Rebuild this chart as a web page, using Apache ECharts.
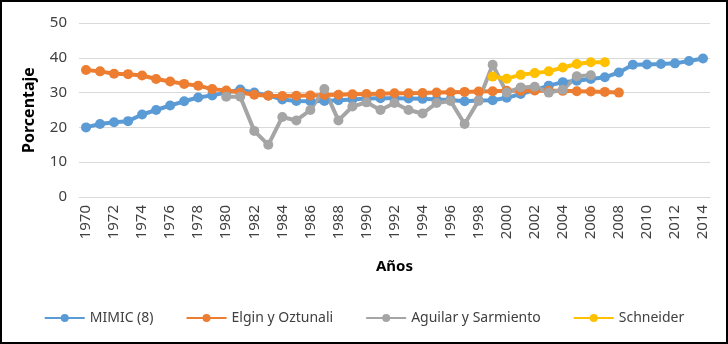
<!DOCTYPE html>
<html>
<head>
<meta charset="utf-8">
<script src="https://cdn.jsdelivr.net/npm/echarts@6/dist/echarts.min.js"></script>
<style>
    html, body { margin: 0; padding: 0; background: #fff; }
    #chart { width: 728px; height: 344px; box-sizing: border-box; border: 2px solid #000; }
</style>
</head>
<body>
<div id="chart"></div>
<script>
// años 1970 - 2014
const years = []
for (let y = 1970; y <= 2014; y++) years.push(String(y))

const mimic = [20, 21, 21.5, 21.8, 23.7, 25, 26.3, 27.5, 28.6, 29.2, 30, 30.9, 30, 29.2, 28, 27.6, 27.5, 27.6, 27.8, 28, 28.3, 28.4, 28.4, 28.3, 28.2, 28, 27.9, 27.5, 27.7, 27.8, 28.5, 29.6, 30.7, 32, 33, 33.4, 33.9, 34.4, 35.8, 38, 38.1, 38.2, 38.4, 39.1, 39.8]
const elgin = [36.5, 36.1, 35.4, 35.3, 34.9, 33.9, 33.2, 32.5, 32, 31, 30.6, 30, 29.4, 29.1, 29, 29.1, 29.2, 29.3, 29.4, 29.5, 29.6, 29.7, 29.8, 29.8, 29.9, 30, 30.1, 30.2, 30.3, 30.4, 30.5, 30.5, 30.6, 30.5, 30.5, 30.4, 30.3, 30.2, 30, null, null, null, null, null, null]
const aguilar = [null, null, null, null, null, null, null, null, null, null, 28.8, 28.8, 19, 15, 23, 22, 25, 31, 22, 26, 27.2, 25, 27, 25, 24, 27, 27.6, 21, 27.7, 38, 30, 31.5, 31.7, 30, 30.8, 34.7, 35, null, null, null, null, null, null, null, null]
const schneider = [null, null, null, null, null, null, null, null, null, null, null, null, null, null, null, null, null, null, null, null, null, null, null, null, null, null, null, null, null, 34.6, 34, 35.1, 35.6, 36.1, 37.2, 38.2, 38.7, 38.7, null, null, null, null, null, null, null]

const seriesNames = ['MIMIC (8)', 'Elgin y Oztunali', 'Aguilar y Sarmiento', 'Schneider']
const colors = ['#5B9BD5', '#ED7D31', '#A5A5A5', '#FFC000']

const font = 'Noto Sans'

function lineSeries(name, data, color) {
    return {
        name: name,
        type: 'line',
        data: data,
        symbol: 'circle',
        symbolSize: 10,
        showAllSymbol: true,
        connectNulls: false,
        lineStyle: { width: 4, color: color },
        itemStyle: { color: color },
        emphasis: { disabled: true }
    }
}

const chart = echarts.init(document.getElementById('chart'))
chart.setOption({
    animation: false,
    textStyle: { fontFamily: font },
    grid: { left: 77, right: 16, top: 21, bottom: 145 },
    legend: {
        bottom: 12,
        left: 'center',
        itemWidth: 40,
        itemHeight: 10,
        itemGap: 32,
        textStyle: { fontSize: 14, color: '#404040', fontFamily: font },
        data: seriesNames
    },
    xAxis: {
        type: 'category',
        data: years,
        boundaryGap: true,
        name: 'Años',
        nameLocation: 'middle',
        nameGap: 62,
        nameTextStyle: { fontSize: 15, fontWeight: 'bold', color: '#000', fontFamily: font },
        axisLine: { lineStyle: { color: '#D9D9D9' } },
        axisTick: { show: false },
        axisLabel: { interval: 1, rotate: 90, fontSize: 15, color: '#404040', margin: 8 }
    },
    yAxis: {
        type: 'value',
        min: 0,
        max: 50,
        interval: 10,
        name: 'Porcentaje',
        nameLocation: 'middle',
        nameGap: 42,
        nameTextStyle: { fontSize: 16, fontWeight: 'bold', color: '#000', fontFamily: font },
        axisLine: { show: false },
        axisTick: { show: false },
        splitLine: { lineStyle: { color: '#D9D9D9', width: 1 } },
        axisLabel: { fontSize: 15, color: '#404040', margin: 12 }
    },
    series: [
        lineSeries(seriesNames[0], mimic, colors[0]),
        lineSeries(seriesNames[1], elgin, colors[1]),
        lineSeries(seriesNames[2], aguilar, colors[2]),
        lineSeries(seriesNames[3], schneider, colors[3])
    ]
})
</script>
</body>
</html>
